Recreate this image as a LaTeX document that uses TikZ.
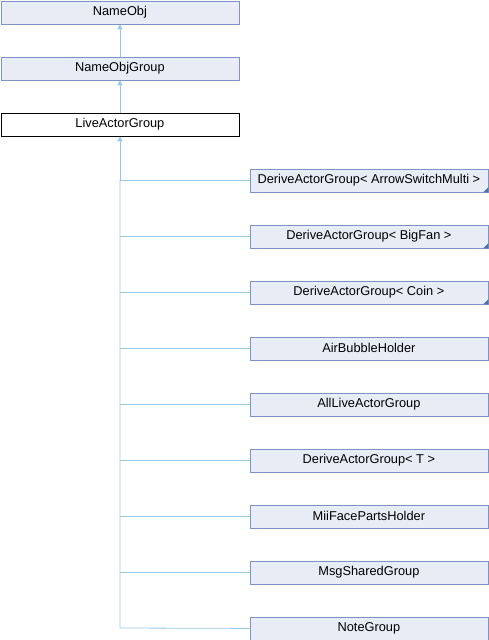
\documentclass[tikz,border=0pt]{standalone}
\usepackage{fontspec}
\setmainfont{Liberation Sans}
\usetikzlibrary{arrows.meta}
\definecolor{boxfill}{RGB}{232,236,245}
\definecolor{boxdraw}{RGB}{124,148,196}
\definecolor{edgecol}{RGB}{150,200,232}
\definecolor{cornercol}{RGB}{80,110,180}
\tikzset{
  cls/.style={draw=boxdraw, fill=boxfill, line width=0.8pt, minimum width=238pt, minimum height=23pt, inner sep=0pt, font=\fontsize{12.8}{14}\selectfont, anchor=north west},
  cur/.style={cls, draw=black, fill=white},
  edge/.style={draw=edgecol, line width=0.8pt},
  inh/.style={edge, -{Triangle[width=5pt,length=5pt]}},
}
\begin{document}
\begin{tikzpicture}[x=1pt,y=-1pt]
\useasboundingbox (0,0) rectangle (488,640);
\node[cls] (n0) at (0.5,0.5) {NameObj};
\node[cls] (n1) at (0.5,56.5) {NameObjGroup};
\node[cur] (n2) at (0.5,112.5) {LiveActorGroup};
\foreach \i/\t in {0/{DeriveActorGroup< ArrowSwitchMulti >},1/{DeriveActorGroup< BigFan >},2/{DeriveActorGroup< Coin >},3/{AirBubbleHolder},4/{AllLiveActorGroup},5/{DeriveActorGroup< T >},6/{MiiFacePartsHolder},7/{MsgSharedGroup},8/{NoteGroup}}{
  \node[cls] (c\i) at (249.5,{168.5+56*\i}) {\t};
}
\foreach \i in {0,1,2}{
  \fill[cornercol] (c\i.south east) -- ++(0,-5) -- ++(-5,5) -- cycle;
}
\draw[inh] (n1.north) -- (n0.south);
\draw[inh] (n2.north) -- (n1.south);
\coordinate (trunk) at (119.5,628);
\draw[edge] (n2.south |- c0.west) -- (n2.south |- trunk) -- (c8.west);
\foreach \i in {0,...,7}{
  \draw[edge] (n2.south |- c\i.west) -- (c\i.west);
}
\draw[inh] (n2.south |- c0.west) -- (n2.south);
\end{tikzpicture}
\end{document}
